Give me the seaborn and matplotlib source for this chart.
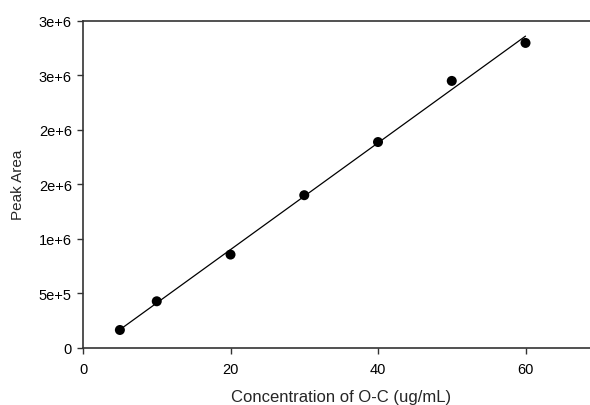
import matplotlib
matplotlib.use("Agg")
import matplotlib.pyplot as plt
import seaborn as sns
import pandas as pd

# Calibration standards
concentration = [5, 10, 20, 30, 40, 50, 60]          # ug/mL
peak_area = [1.65e5, 4.28e5, 8.56e5, 1.40e6, 1.887e6, 2.447e6, 2.795e6]

x_ticks = [0, 20, 40, 60]
y_ticks = [0, 5e5, 1e6, 1.5e6, 2e6, 2.5e6, 3e6]
y_tick_labels = ["0", "5e+5", "1e+6", "2e+6", "2e+6", "3e+6", "3e+6"]

df = pd.DataFrame({"conc": concentration, "area": peak_area})

sns.set_theme(style="white")
plt.rcParams["font.family"] = ["Liberation Sans", "DejaVu Sans"]

fig = plt.figure(figsize=(5.9, 4.06), dpi=100)
ax = fig.add_axes([0.1407, 0.1404, 0.875, 0.8065])

sns.regplot(data=df, x="conc", y="area", ax=ax, ci=None, truncate=True,
            scatter_kws={"s": 52, "color": "black", "edgecolor": "none", "alpha": 1},
            line_kws={"color": "black", "linewidth": 0.9})

ax.set_xlim(0, 70)
ax.set_ylim(0, 3e6)
ax.set_xticks(x_ticks)
ax.set_xticklabels([str(t) for t in x_ticks])
ax.set_yticks(y_ticks)
ax.set_yticklabels(y_tick_labels)

ax.set_xlabel("Concentration of O-C (ug/mL)", fontsize=12, labelpad=9.5)
ax.set_ylabel("Peak Area", fontsize=11, labelpad=10)

ax.tick_params(axis="both", which="both", direction="out", length=4, width=1,
               color="#333333", labelsize=10.5, labelcolor="black", pad=4,
               left=True, bottom=True)
ax.tick_params(axis="x", pad=6)

for side in ("left", "bottom", "top"):
    ax.spines[side].set_visible(True)
    ax.spines[side].set_color("#333333")
    ax.spines[side].set_linewidth(1.2)
ax.spines["right"].set_visible(False)

fig.savefig("out.png", dpi=100)
